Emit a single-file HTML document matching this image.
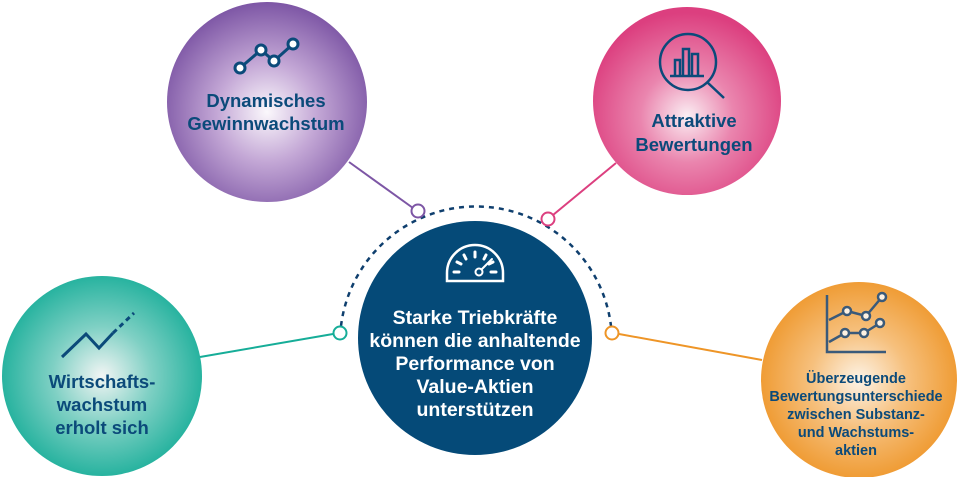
<!DOCTYPE html>
<html><head><meta charset="utf-8"><style>
html,body{margin:0;padding:0;background:#fff;}
svg{display:block;}
text{font-family:"Liberation Sans",Arial,sans-serif;font-weight:bold;text-anchor:middle;}
</style></head><body>
<svg width="960" height="477" viewBox="0 0 960 477" xmlns="http://www.w3.org/2000/svg">
<defs>
<radialGradient id="gp" cx="0.5" cy="0.55" r="0.55"><stop offset="0" stop-color="#fbf8fc"/><stop offset="0.45" stop-color="#c4a8d6"/><stop offset="1" stop-color="#7d56a5"/></radialGradient>
<radialGradient id="gk" cx="0.5" cy="0.58" r="0.55"><stop offset="0" stop-color="#fbeef3"/><stop offset="0.45" stop-color="#ea85ae"/><stop offset="1" stop-color="#dc3f7f"/></radialGradient>
<radialGradient id="gt" cx="0.5" cy="0.5" r="0.55"><stop offset="0" stop-color="#f2f5f4"/><stop offset="0.45" stop-color="#7fd0c4"/><stop offset="1" stop-color="#16ad98"/></radialGradient>
<radialGradient id="go" cx="0.5" cy="0.5" r="0.55"><stop offset="0" stop-color="#fdf3e6"/><stop offset="0.45" stop-color="#f6c07d"/><stop offset="1" stop-color="#ee9527"/></radialGradient>
</defs>
<line x1="349" y1="162" x2="413" y2="208" stroke="#7d56a5" stroke-width="2"/>
<line x1="616" y1="163" x2="553" y2="215" stroke="#dc3f7f" stroke-width="2"/>
<line x1="200" y1="357" x2="333" y2="334" stroke="#16ad98" stroke-width="2"/>
<line x1="619" y1="334" x2="762" y2="360" stroke="#ee9527" stroke-width="2"/>
<path d="M341 326 A136 136 0 0 1 611 326" fill="none" stroke="#0f3f6e" stroke-width="2.5" stroke-dasharray="5 5"/>
<circle cx="475" cy="338" r="117" fill="#054a78"/>
<g stroke="#fff" stroke-width="3" fill="none" stroke-linecap="round">
<path d="M447 281 v-8 a28 28 0 0 1 56 0 v8 z" stroke-width="2.5"/>
<line x1="454" y1="272" x2="459" y2="272"/><line x1="491" y1="272" x2="496" y2="272"/>
<line x1="457" y1="262" x2="461" y2="264"/><line x1="464" y1="255" x2="466" y2="259"/><line x1="475" y1="252" x2="475" y2="257"/><line x1="486" y1="255" x2="484" y2="259"/><line x1="493" y1="262" x2="489" y2="264"/>
<circle cx="479" cy="272" r="3.5" stroke-width="2"/><line x1="482" y1="269" x2="492" y2="259" stroke-width="2"/>
</g>
<g fill="#fff" font-size="19.5">
<text x="475" y="324">Starke Triebkräfte</text>
<text x="475" y="347">können die anhaltende</text>
<text x="475" y="370">Performance von</text>
<text x="475" y="393">Value-Aktien</text>
<text x="475" y="416">unterstützen</text>
</g>
<circle cx="418" cy="211" r="6.5" fill="#fff" stroke="#7d56a5" stroke-width="2"/>
<circle cx="548" cy="219" r="6.5" fill="#fff" stroke="#dc3f7f" stroke-width="2"/>
<circle cx="340" cy="333" r="6.5" fill="#fff" stroke="#16ad98" stroke-width="2"/>
<circle cx="612" cy="333" r="6.5" fill="#fff" stroke="#ee9527" stroke-width="2"/>
<circle cx="267" cy="102" r="100" fill="url(#gp)"/>
<g stroke="#0b4a7a" stroke-width="3" fill="#fff">
<polyline points="240,68 261,50 274,61 293,44" fill="none"/>
<circle cx="240" cy="68" r="5"/><circle cx="261" cy="50" r="5"/><circle cx="274" cy="61" r="5"/><circle cx="293" cy="44" r="5"/>
</g>
<g fill="#0b4a7a" font-size="18.5">
<text x="266" y="107">Dynamisches</text><text x="266" y="130">Gewinnwachstum</text>
</g>
<circle cx="687" cy="101" r="94" fill="url(#gk)"/>
<g stroke="#0b4a7a" stroke-width="2.5" fill="none">
<circle cx="688" cy="62" r="28"/><line x1="707" y1="82" x2="724" y2="98"/>
<path d="M675 76 v-16 h5 v16 M683 76 v-27 h6 v27 M692 76 v-22 h6 v22 M670 76 h34"/>
</g>
<g fill="#0b4a7a" font-size="18.5">
<text x="694" y="127">Attraktive</text><text x="694" y="151">Bewertungen</text>
</g>
<circle cx="102" cy="376" r="100" fill="url(#gt)"/>
<g stroke="#0b4a7a" stroke-width="3" fill="none">
<polyline points="62,357 86,334 99,348 113,333"/>
<line x1="113" y1="333" x2="134" y2="313" stroke-dasharray="5 4"/>
</g>
<g fill="#0b4a7a" font-size="18.5">
<text x="102" y="388">Wirtschafts-</text><text x="102" y="411">wachstum</text><text x="102" y="434">erholt sich</text>
</g>
<circle cx="859" cy="380" r="98" fill="url(#go)"/>
<g stroke="#3a5a7a" stroke-width="2.5" fill="none">
<polyline points="827,295 827,352 886,352"/>
<polyline points="829,320 847,311 866,316 882,297"/>
<polyline points="829,342 845,333 864,333 880,323"/>
<g fill="#fdf1e2"><circle cx="847" cy="311" r="4"/><circle cx="866" cy="316" r="4"/><circle cx="882" cy="297" r="4"/><circle cx="845" cy="333" r="4"/><circle cx="864" cy="333" r="4"/><circle cx="880" cy="323" r="4"/></g>
</g>
<g fill="#0b4a7a" font-size="14.5">
<text x="856" y="383">Überzeugende</text><text x="856" y="401">Bewertungsunterschiede</text><text x="856" y="419">zwischen Substanz-</text><text x="856" y="437">und Wachstums-</text><text x="856" y="455">aktien</text>
</g>
</svg>
</body></html>
